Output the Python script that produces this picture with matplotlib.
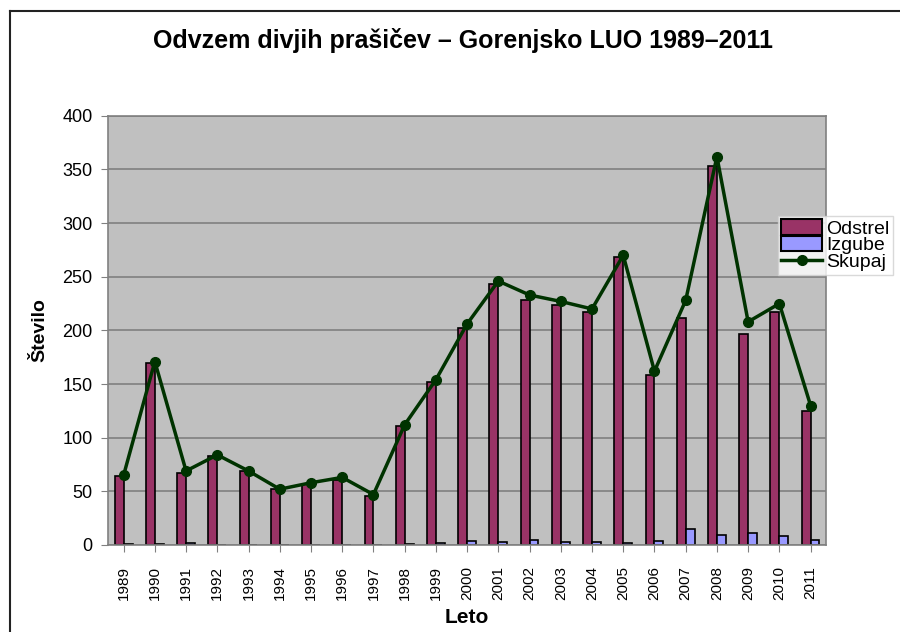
import numpy as np
import matplotlib
matplotlib.use('Agg')
import matplotlib.pyplot as plt
from matplotlib.lines import Line2D
from matplotlib.patches import Patch

plt.rcParams['font.family'] = ['Liberation Sans', 'DejaVu Sans']

years = ['1989', '1990', '1991', '1992', '1993', '1994', '1995', '1996',
         '1997', '1998', '1999', '2000', '2001', '2002', '2003', '2004',
         '2005', '2006', '2007', '2008', '2009', '2010', '2011']
odstrel = [64, 170, 67, 83, 69, 52, 57, 61, 46, 111, 152, 202, 243, 228,
           224, 217, 268, 158, 212, 353, 197, 217, 125]
izgube = [1, 1, 2, 0, 0, 0, 0, 0, 0, 1, 2, 4, 3, 5, 3, 3, 2, 4, 15, 9,
          11, 8, 5]
skupaj = [65, 171, 69, 84, 69, 52, 58, 63, 47, 112, 154, 206, 246, 233,
          227, 220, 270, 162, 228, 362, 208, 225, 130]

c_odstrel = '#993366'
c_izgube = '#9999FF'
c_skupaj = '#003300'

fig = plt.figure(figsize=(9, 6.32), dpi=100)
ax = fig.add_axes([0.12, 0.1377, 0.798, 0.679])
ax.set_facecolor('#C0C0C0')

x = np.arange(len(years))
w = 0.285
ax.bar(x - w/2, odstrel, w, color=c_odstrel, edgecolor='black', lw=1.2,
       zorder=2)
ax.bar(x + w/2, izgube, w, color=c_izgube, edgecolor='black', lw=1.2,
       zorder=2)
ax.plot(x, skupaj, color=c_skupaj, lw=2.5, marker='o', ms=7, zorder=3)

ax.set_xlim(-0.5, len(years) - 0.5)
ax.set_ylim(0, 400)
ax.set_yticks(np.arange(0, 401, 50))
ax.yaxis.grid(True, color='#808080', lw=1.2, zorder=0)
ax.set_axisbelow(True)
ax.set_xticks(x)
ax.set_xticklabels(years, rotation=90, fontsize=11)
ax.tick_params(axis='y', labelsize=13, length=5, color='#808080', pad=6)
ax.tick_params(axis='x', length=5, color='#808080', pad=10)
for s in ['left', 'bottom', 'top', 'right']:
    ax.spines[s].set_color('#808080')
    ax.spines[s].set_linewidth(1.2)

ax.set_xlabel('Leto', fontsize=15, fontweight='bold', labelpad=6)
ax.set_ylabel('Število', fontsize=14, fontweight='bold', labelpad=10)
fig.suptitle('Odvzem divjih prašičev – Gorenjsko LUO 1989–2011',
             fontsize=18, fontweight='bold', x=0.514, y=0.955)

handles = [Patch(facecolor=c_odstrel, edgecolor='black', lw=1.5),
           Patch(facecolor=c_izgube, edgecolor='black', lw=1.5),
           Line2D([], [], color=c_skupaj, lw=2.5, marker='o', ms=7)]
leg = fig.legend(handles, ['Odstrel', 'Izgube', 'Skupaj'],
                 loc='upper left', bbox_to_anchor=(0.864, 0.659),
                 fontsize=14, frameon=True, fancybox=False,
                 handlelength=2.1, handleheight=0.85, handletextpad=0.2,
                 borderpad=0.2, labelspacing=-0.1, borderaxespad=0)
leg.get_frame().set_edgecolor('#D0D0D0')
leg.get_frame().set_facecolor('white')

fig.add_artist(Line2D([10/900, 10/900], [0, 1 - 11/632], color='#222222',
                      lw=1.5, transform=fig.transFigure))
fig.add_artist(Line2D([10/900, 1], [1 - 11/632, 1 - 11/632], color='#222222',
                      lw=1.5, transform=fig.transFigure))

fig.savefig('out.png', dpi=100)
